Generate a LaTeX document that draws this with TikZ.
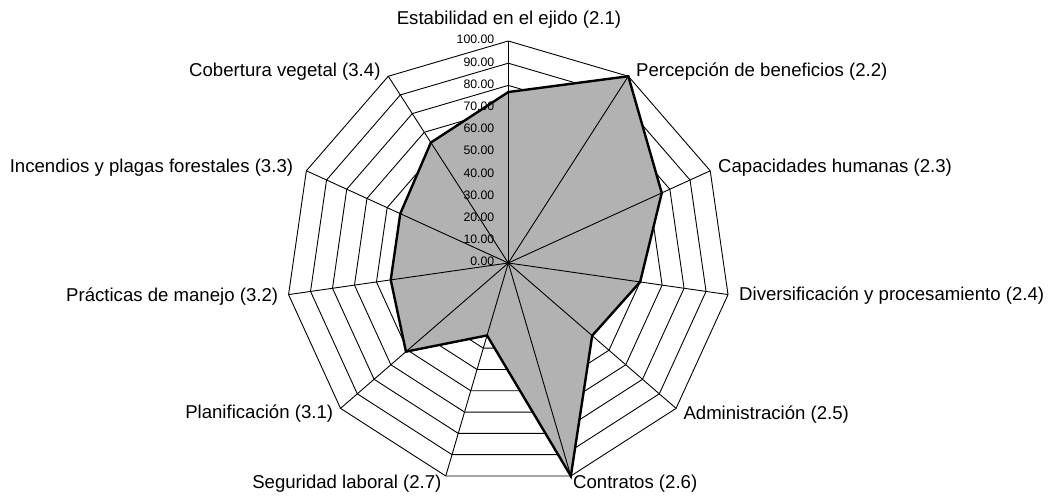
\documentclass[tikz,border=0pt]{standalone}
\usepackage{fontspec}
\setmainfont{Liberation Sans}
\begin{document}
\begin{tikzpicture}[x=1pt,y=1pt,
  gridline/.style={draw=black,line width=0.9pt,line join=miter},
  polyfill/.style={fill=black!30},
  polyline/.style={draw=black,line width=2.4pt,line join=miter},
  axlabel/.style={inner sep=0pt,font=\fontsize{18.6}{20}\selectfont},
  ticklabel/.style={inner sep=0pt,font=\fontsize{12.3}{13}\selectfont,anchor=base east}]
\useasboundingbox (-508.3,-237) rectangle (543.7,263);
\def\R{222}
\coordinate (c) at (0,0);
% outer axis points and value points
\foreach \v [count=\i from 0] in {77,100,76,60,50,100,34,61,53.5,53.5,64.5} {
  \pgfmathsetmacro\ang{90-\i*360/11}
  \pgfmathsetmacro\rr{\v/100*\R}
  \coordinate (a\i) at (\ang:\R pt);
  \coordinate (p\i) at (\ang:\rr pt);
}
% rings
\foreach \r in {1,...,10} {
  \pgfmathsetmacro\rad{\r/10*\R}
  \draw[gridline] (90:\rad pt)
    \foreach \k in {1,...,10} { -- ({90-\k*360/11}:\rad pt) } -- cycle;
}
% data fill
\fill[polyfill] (p0) -- (p1) -- (p2) -- (p3) -- (p4) -- (p5) -- (p6) -- (p7) -- (p8) -- (p9) -- (p10) -- cycle;
% spokes
\foreach \i in {0,...,10} { \draw[gridline] (c) -- (a\i); }
% data outline
\draw[polyline] (p0) -- (p1) -- (p2) -- (p3) -- (p4) -- (p5) -- (p6) -- (p7) -- (p8) -- (p9) -- (p10) -- cycle;
% tick labels
\foreach \t [count=\j from 0] in {0.00,10.00,20.00,30.00,40.00,50.00,60.00,70.00,80.00,90.00,100.00} {
  \pgfmathsetmacro\ty{\j/10*\R-3}
  \node[ticklabel] (t\j) at (-13.8,\ty) {\t};
}
% axis labels
\node[axlabel,anchor=base] (l0) at (0.7,238) {Estabilidad en el ejido (2.1)};
\node[axlabel,anchor=base west] (l1) at (127.7,186.4) {Percepción de beneficios (2.2)};
\node[axlabel,anchor=base west] (l2) at (209.7,90.4) {Capacidades humanas (2.3)};
\node[axlabel,anchor=base west] (l3) at (230.7,-37.7) {Diversificación y procesamiento (2.4)};
\node[axlabel,anchor=base west] (l4) at (175,-157) {Administración (2.5)};
\node[axlabel,anchor=base west] (l5) at (64.7,-225.5) {Contratos (2.6)};
\node[axlabel,anchor=base east] (l6) at (-66.6,-225.5) {Seguridad laboral (2.7)};
\node[axlabel,anchor=base east] (l7) at (-175,-155.3) {Planificación (3.1)};
\node[axlabel,anchor=base east] (l8) at (-230,-38.7) {Prácticas de manejo (3.2)};
\node[axlabel,anchor=base east] (l9) at (-215,90.7) {Incendios y plagas forestales (3.3)};
\node[axlabel,anchor=base east] (l10) at (-127.6,186.3) {Cobertura vegetal (3.4)};
\end{tikzpicture}
\end{document}
